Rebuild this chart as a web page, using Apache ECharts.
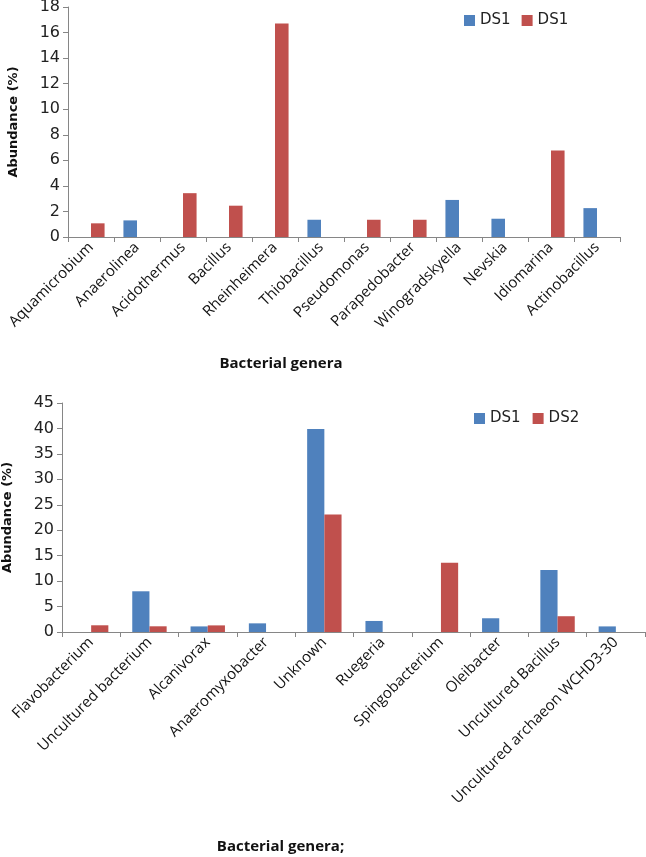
<!DOCTYPE html>
<html><head><meta charset="utf-8">
<script src="https://cdn.jsdelivr.net/npm/echarts@6/dist/echarts.min.js"></script>
<style>html,body{margin:0;padding:0;background:#fff}#c{width:646px;height:857px}</style>
</head><body><div id="c"></div>
<script>
var topCats = ['Aquamicrobium','Anaerolinea','Acidothermus','Bacillus','Rheinheimera','Thiobacillus','Pseudomonas','Parapedobacter','Winogradskyella','Nevskia','Idiomarina','Actinobacillus'];
var topBlue = [null,1.3,null,null,null,1.35,null,null,2.9,1.43,null,2.26];
var topRed  = [1.07,null,3.43,2.45,16.7,null,1.35,1.35,null,null,6.77,null];
var topTicks = {min:0,max:18,interval:2};

var botCats = ['Flavobacterium','Uncultured bacterium','Alcanivorax','Anaeromyxobacter','Unknown','Ruegeria','Spingobacterium','Oleibacter','Uncultured Bacillus','Uncultured archaeon WCHD3-30'];
var botDS1 = [null,8.0,1.1,1.7,39.9,2.17,null,2.7,12.2,1.1];
var botDS2 = [1.32,1.12,1.3,null,23.1,null,13.6,null,3.1,null];
var botTicks = {min:0,max:45,interval:5};

var BLUE='#4F81BD', RED='#C0504D', AX='#868686';
var tickFont = {fontFamily:'DejaVu Sans',fontSize:16,color:'#222'};
var catFont = {fontFamily:'Open Sans',fontSize:15,color:'#111'};

function yAx(idx,t){
  return {type:'value',gridIndex:idx,min:t.min,max:t.max,interval:t.interval,
    name:'Abundance (%)',nameLocation:'middle',nameGap:48,
    nameTextStyle:{fontFamily:'DejaVu Sans',fontWeight:'bold',fontSize:13,color:'#111'},
    axisLine:{show:true,lineStyle:{color:AX}},axisTick:{show:true,length:5,lineStyle:{color:AX}},
    splitLine:{show:false},axisLabel:Object.assign({margin:8},tickFont)};
}
function xAx(idx,cats,name,gap,shift){
  return {type:'category',gridIndex:idx,data:cats,
    name:name,nameLocation:'middle',nameGap:gap,
    nameTextStyle:{fontFamily:'Open Sans',fontWeight:'bold',fontSize:15,color:'#111',padding:[0,shift,0,0]},
    axisLine:{lineStyle:{color:AX}},axisTick:{show:true,length:5,lineStyle:{color:AX}},
    axisLabel:Object.assign({rotate:45,interval:0,margin:8},catFont)};
}
var chart = echarts.init(document.getElementById('c'));
chart.setOption({
  animation:false,
  grid:[{left:68,right:26,top:7,height:230,outerBoundsMode:'none',containLabel:false},
        {left:62,right:1,top:403,height:229,outerBoundsMode:'none',containLabel:false}],
  legend:[
    {data:['DS1a','DS1b'],left:459,top:8,itemWidth:11,itemHeight:11,itemGap:11,formatter:function(){return 'DS1';},
     textStyle:{fontFamily:'DejaVu Sans',fontSize:15,color:'#222'},icon:'rect'},
    {data:['DS1','DS2'],left:469,top:406,itemWidth:11,itemHeight:11,itemGap:12,
     textStyle:{fontFamily:'DejaVu Sans',fontSize:15,color:'#222'},icon:'rect'}
  ],
  xAxis:[xAx(0,topCats,'Bacterial genera',119,126),xAx(1,botCats,'Bacterial genera;',207,146)],
  yAxis:[yAx(0,topTicks),yAx(1,botTicks)],
  series:[
    {name:'DS1a',type:'bar',xAxisIndex:0,yAxisIndex:0,data:topBlue,itemStyle:{color:BLUE},barGap:'0%',barCategoryGap:'41%'},
    {name:'DS1b',type:'bar',xAxisIndex:0,yAxisIndex:0,data:topRed,itemStyle:{color:RED},barGap:'0%',barCategoryGap:'41%'},
    {name:'DS1',type:'bar',xAxisIndex:1,yAxisIndex:1,data:botDS1,itemStyle:{color:BLUE},barGap:'0%',barCategoryGap:'41%'},
    {name:'DS2',type:'bar',xAxisIndex:1,yAxisIndex:1,data:botDS2,itemStyle:{color:RED},barGap:'0%',barCategoryGap:'41%'}
  ]
});
</script></body></html>
